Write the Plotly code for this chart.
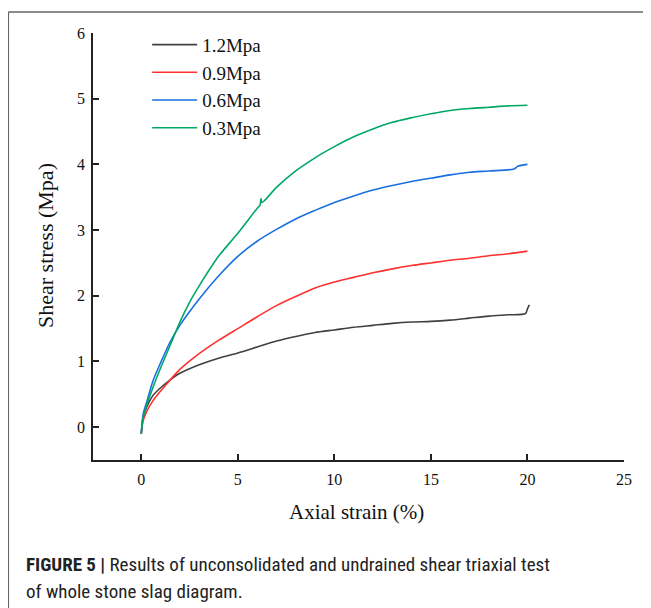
import plotly.graph_objects as go

# ---- data ----
series_names = ["1.2Mpa", "0.9Mpa", "0.6Mpa", "0.3Mpa"]

strain_12 = [0, 0.1, 0.3, 0.6, 1, 1.5, 2, 3, 4, 5, 6, 7, 8, 9, 10, 11, 12, 13, 14, 15, 16, 17, 18, 19, 19.9, 20.0, 20.1]
stress_12 = [-0.1, 0.15, 0.32, 0.48, 0.6, 0.72, 0.82, 0.95, 1.05, 1.13, 1.22, 1.31, 1.38, 1.44, 1.48, 1.52, 1.55, 1.58, 1.6, 1.61, 1.63, 1.66, 1.69, 1.71, 1.73, 1.8, 1.86]

strain_09 = [0, 0.1, 0.3, 0.6, 1, 1.5, 2, 3, 4, 5, 6, 7, 8, 9, 10, 11, 12, 13, 14, 15, 16, 17, 18, 19, 20]
stress_09 = [-0.1, 0.1, 0.25, 0.4, 0.55, 0.72, 0.88, 1.12, 1.32, 1.5, 1.68, 1.85, 1.99, 2.12, 2.21, 2.28, 2.35, 2.41, 2.46, 2.5, 2.54, 2.57, 2.61, 2.64, 2.68]

strain_06 = [0, 0.1, 0.3, 0.6, 1, 1.5, 2, 3, 4, 5, 6, 7, 8, 9, 10, 11, 12, 13, 14, 15, 16, 17, 18, 19.3, 19.5, 20]
stress_06 = [-0.1, 0.2, 0.4, 0.7, 0.98, 1.3, 1.55, 1.95, 2.3, 2.6, 2.83, 3.01, 3.17, 3.3, 3.42, 3.52, 3.61, 3.68, 3.74, 3.79, 3.84, 3.88, 3.9, 3.93, 3.97, 4.0]

strain_03 = [0, 0.1, 0.3, 0.6, 1, 1.5, 2, 2.5, 3, 4, 5, 6, 6.15, 6.2, 6.25, 7, 8, 9, 10, 11, 12, 13, 14, 15, 16, 17, 18, 19, 20]
stress_03 = [-0.1, 0.15, 0.35, 0.6, 0.9, 1.25, 1.6, 1.9, 2.15, 2.6, 2.95, 3.33, 3.38, 3.48, 3.42, 3.65, 3.9, 4.1, 4.27, 4.42, 4.54, 4.64, 4.71, 4.77, 4.82, 4.85, 4.87, 4.89, 4.9]

x_ticks = [0, 5, 10, 15, 20, 25]
y_ticks = [0, 1, 2, 3, 4, 5, 6]

colors = ["#404040", "#ff3030", "#1a6fdf", "#00a864"]
xs = [strain_12, strain_09, strain_06, strain_03]
ys = [stress_12, stress_09, stress_06, stress_03]

fig = go.Figure()
for name, x, y, c in zip(series_names, xs, ys, colors):
    fig.add_trace(go.Scatter(x=x, y=y, mode="lines", name=name,
                             line=dict(color=c, width=1.6, shape="spline", smoothing=0.8)))

serif = "Liberation Serif, Times New Roman, serif"
axis_common = dict(showline=True, linecolor="#222", linewidth=1.5, ticks="inside",
                   ticklen=6, tickwidth=1.5, tickcolor="#222", showgrid=False, zeroline=False,
                   tickfont=dict(family=serif, size=16, color="#111"))

fig.update_layout(
    width=643, height=600,
    margin=dict(l=85, r=27, t=25, b=148),
    paper_bgcolor="white", plot_bgcolor="white",
    xaxis=dict(range=[-2.5, 25], tickvals=x_ticks, ticklabelstandoff=4, **axis_common),
    yaxis=dict(range=[-0.5, 6], tickvals=y_ticks, ticklabelstandoff=3, **axis_common),
    legend=dict(x=0.102, y=1.017, xanchor="left", yanchor="top", bgcolor="rgba(0,0,0,0)",
                font=dict(family=serif, size=19, color="#111"), itemwidth=45),
    showlegend=True,
)

fig.add_annotation(text="Axial strain (%)", xref="paper", yref="paper", x=0.497, y=-0.1218,
                   xanchor="center", yanchor="middle",
                   showarrow=False, font=dict(family=serif, size=21, color="#111"))
fig.add_annotation(text="Shear stress (Mpa)", xref="paper", yref="paper", x=-0.0904, y=0.5035,
                   xanchor="center", yanchor="middle",
                   textangle=-90, showarrow=False, font=dict(family=serif, size=22, color="#111"))

cap_font = dict(family="Liberation Sans Narrow, Roboto Condensed, Liberation Sans, Arial, sans-serif", size=19, color="#222")
fig.add_annotation(text="<b>FIGURE 5 |</b> Results of unconsolidated and undrained shear triaxial test",
                   xref="paper", yref="paper", x=-0.1299, y=-0.2459, xanchor="left", yanchor="middle",
                   showarrow=False, font=cap_font)
fig.add_annotation(text="of whole stone slag diagram.",
                   xref="paper", yref="paper", x=-0.1299, y=-0.3068, xanchor="left", yanchor="middle",
                   showarrow=False, font=cap_font)

# frame lines (top and left)
fig.add_shape(type="line", xref="paper", yref="paper", x0=-0.1595, x1=1.06, y0=1.0492, y1=1.0492,
              line=dict(color="#666", width=1.5))
fig.add_shape(type="line", xref="paper", yref="paper", x0=-0.1595, x1=-0.1595, y0=1.0492, y1=-0.36,
              line=dict(color="#666", width=1.5))

fig.write_html("out.html")
